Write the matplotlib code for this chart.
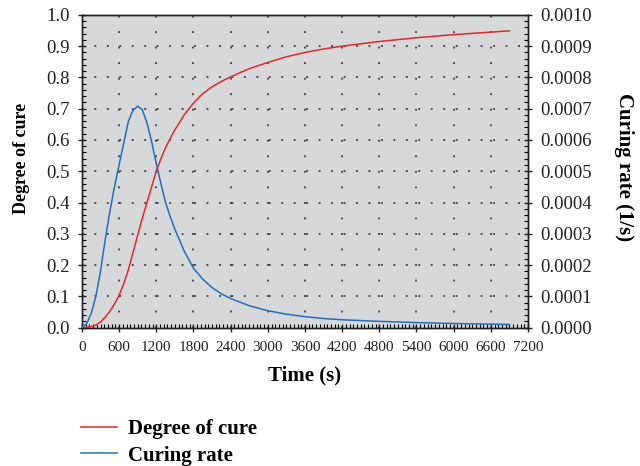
import matplotlib
matplotlib.use("Agg")
import matplotlib.pyplot as plt
from matplotlib.ticker import MultipleLocator, FormatStrFormatter
from matplotlib.lines import Line2D

# Data
time_s = [0, 75, 150, 225, 300, 375, 450, 525, 600, 675, 750, 825, 900, 975,
          1050, 1125, 1200, 1275, 1350, 1425, 1500, 1650, 1800, 1950, 2100,
          2250, 2400, 2700, 3000, 3300, 3600, 3900, 4200, 4800, 5400, 6000,
          6600, 6900]
degree_of_cure = [0.0, 0.0005, 0.003, 0.008, 0.018, 0.033, 0.052, 0.075, 0.103,
                  0.14, 0.185, 0.24, 0.295, 0.35, 0.40, 0.45, 0.50, 0.54, 0.575,
                  0.605, 0.632, 0.68, 0.718, 0.748, 0.770, 0.787, 0.802, 0.828,
                  0.848, 0.866, 0.880, 0.891, 0.900, 0.915, 0.927, 0.937, 0.945,
                  0.949]
curing_rate = [0.0, 0.000012, 0.000045, 0.00010, 0.00018, 0.00028, 0.00037,
               0.00045, 0.00052, 0.00059, 0.00066, 0.000695, 0.000708, 0.000697,
               0.000655, 0.000595, 0.000525, 0.00046, 0.00040, 0.000355,
               0.000315, 0.000245, 0.00019, 0.000155, 0.000128, 0.000108,
               0.000093, 0.000070, 0.000054, 0.000043, 0.000035, 0.000029,
               0.000025, 0.000020, 0.000016, 0.000013, 0.000011, 0.000010]

x_ticks = [0, 600, 1200, 1800, 2400, 3000, 3600, 4200, 4800, 5400, 6000, 6600, 7200]

plt.rcParams['font.family'] = ['Liberation Serif', 'DejaVu Serif']

fig = plt.figure(figsize=(6.4, 4.66), dpi=100)
ax = fig.add_axes([0.128, 0.297, 0.697, 0.671])
ax.set_facecolor('#d7d8da')
ax2 = ax.twinx()

red = '#e8262a'
blue = '#1f6fbf'

ax.plot(time_s, degree_of_cure, color=red, lw=1.1, zorder=3)
ax2.plot(time_s, curing_rate, color=blue, lw=1.1, zorder=3)

ax.set_xlim(0, 7200)
ax.set_ylim(0, 1.0)
ax2.set_ylim(0, 0.001)

ax.set_xticks(x_ticks)
ax.xaxis.set_minor_locator(MultipleLocator(60))
ax.yaxis.set_major_locator(MultipleLocator(0.1))
ax.yaxis.set_minor_locator(MultipleLocator(0.02))
ax.yaxis.set_major_formatter(FormatStrFormatter('%.1f'))
ax2.yaxis.set_major_locator(MultipleLocator(0.0001))
ax2.yaxis.set_minor_locator(MultipleLocator(0.00002))
ax2.yaxis.set_major_formatter(FormatStrFormatter('%.4f'))

# dotted grid
for y in [0.1 * i for i in range(1, 10)]:
    ax.axhline(y, color='#3a3a3a', lw=1.3, linestyle=(0, (1, 5.9)), zorder=1)
for x in x_ticks[1:-1]:
    ax.axvline(x, color='#3a3a3a', lw=1.3, linestyle=(0, (1, 7.6)), zorder=1)

for a in (ax, ax2):
    for s in a.spines.values():
        s.set_linewidth(1.0)
        s.set_color('#222222')

ax.tick_params(axis='both', which='major', direction='inout', length=6, width=1,
               colors='#222222', top=False)
ax.tick_params(axis='both', which='minor', direction='in', length=3, width=0.8,
               top=False)
ax.tick_params(axis='y', which='major', labelsize=13.5, pad=6)
ax.tick_params(axis='x', which='major', labelsize=11, pad=7)
ax2.tick_params(axis='y', which='major', direction='inout', length=6, width=1,
                labelsize=13.5, colors='#222222', pad=6)
ax2.tick_params(axis='y', which='minor', direction='in', length=3, width=0.8)

ax.set_xlabel('Time (s)', fontsize=15, fontweight='bold')
ax.xaxis.set_label_coords(0.5, -0.12)
ax.set_ylabel('Degree of cure', fontsize=13, fontweight='bold', va='center')
ax.yaxis.set_label_coords(-0.135, 0.54)
ax2.set_ylabel('Curing rate (1/s)', fontsize=15, fontweight='bold',
               rotation=270, va='center')
ax2.yaxis.set_label_coords(1.215, 0.515)

handles = [Line2D([], [], color=red, lw=1.1), Line2D([], [], color=blue, lw=1.1)]
fig.legend(handles, ['Degree of cure', 'Curing rate'], loc='upper left',
           bbox_to_anchor=(0.127, 0.101), frameon=False,
           prop={'weight': 'bold', 'size': 15}, handlelength=1.7,
           handletextpad=0.55, labelspacing=0.32, borderaxespad=0,
           borderpad=0)

fig.savefig('out.png', dpi=100)
